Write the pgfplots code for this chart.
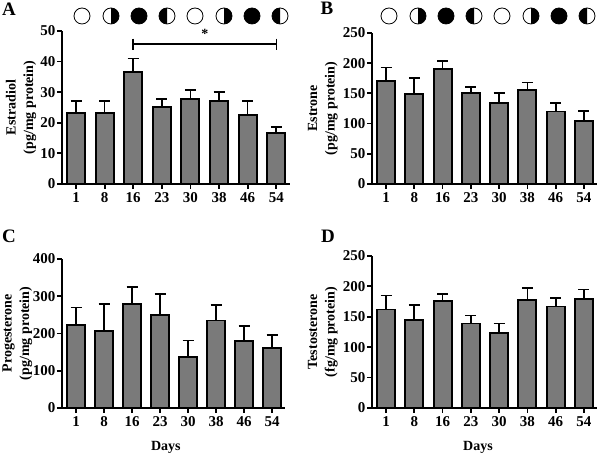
\documentclass[border=0pt]{standalone}
\usepackage{fontspec}
\setmainfont{Liberation Serif}
\usepackage{pgfplots}
\usepackage{pgfplotstable}
\pgfplotsset{compat=1.18}

\definecolor{barfill}{RGB}{122,122,122}

\pgfplotstableread{
x y e
0 23.2 4.0
1 23.2 3.9
2 36.7 4.3
3 25.2 2.7
4 27.7 2.9
5 27.2 2.8
6 22.4 4.8
7 16.6 2.1
}\estradiol
\pgfplotstableread{
x y e
0 170 23
1 149 26
2 190 13
3 150 11
4 134 16
5 155 13
6 120 14
7 104 17
}\estrone
\pgfplotstableread{
x y e
0 223 47
1 207 72
2 279 45
3 250 55
4 138 43
5 235 42
6 181 39
7 162 34
}\progesterone
\pgfplotstableread{
x y e
0 162 23
1 145 25
2 176 12
3 139 13
4 123 16
5 177 20
6 167 14
7 180 15
}\testosterone

\newcommand{\lab}{\fontsize{15}{16}\selectfont\bfseries}

\pgfplotsset{
  panel/.style={
    scale only axis,
    anchor=south west,
    axis x line=bottom,
    axis y line=left,
    axis line style={line width=2.1pt,-},
    x axis line style={-},
    y axis line style={-},
    tick style={black,line width=1.8pt},
    tick align=outside,
    major tick length=5pt,
    xtick={0,...,7},
    xticklabels={1,8,16,23,30,38,46,54},
    ymin=0,
    clip=false,
    /pgf/number format/assume math mode=true,
    tick label style={font=\lab},
    x tick label style={yshift=0pt},
    y tick label style={xshift=2pt},
    label style={font=\fontsize{14}{17.5}\selectfont\bfseries,align=center},
  },
  bars/.style={
    ybar,
    bar width=18pt,
    bar shift=0pt,
    fill=barfill,
    draw=black,
    line width=1.9pt,
    error bars/.cd,
      y dir=plus,
      y explicit,
      error mark options={rotate=90,mark size=5.5pt,line width=1.8pt,black},
      error bar style={line width=1.6pt,black},
  },
}

% moon phases above the top panels
\newcommand{\moon}[3]{% x, y, kind: 0 full white, 1 right dark, 2 all dark, 3 left dark
  \ifcase#3\relax
  \or \fill[black] (#1pt,#2pt+8pt) arc[start angle=90,end angle=-90,radius=8pt] -- cycle;
  \or \fill[black] (#1pt,#2pt) circle[radius=8pt];
  \or \fill[black] (#1pt,#2pt+8pt) arc[start angle=90,end angle=270,radius=8pt] -- cycle;
  \fi
  \draw[black,line width=0.8pt] (#1pt,#2pt) circle[radius=8pt];
}

\begin{document}
\begin{tikzpicture}[x=1pt,y=1pt]
\useasboundingbox (0,0) rectangle (600,457);

\begin{axis}[panel,at={(62pt,273pt)},width=228pt,height=153pt,
  xmin=-0.49,xmax=7.48,ymax=50,ytick={0,10,...,50},
  ylabel={Estradiol\\(pg/mg protein)},
  every axis y label/.append style={at={(axis description cs:-0.18,0.5)},anchor=center}]
\addplot[bars] table[x=x,y=y,y error=e] {\estradiol};
\addplot[black,line width=1.5pt,mark=|,mark size=5.5pt,mark options={line width=1.5pt}] coordinates {(2,45.7) (7,45.7)};
\node[font=\fontsize{14}{14}\selectfont\bfseries] at (axis cs:4.5,49.2) {*};
\end{axis}

\begin{axis}[panel,at={(372pt,273pt)},width=225pt,height=151pt,
  xmin=-0.495,xmax=7.46,ymax=250,ytick={0,50,...,250},
  ylabel={Estrone\\(pg/mg protein)},
  every axis y label/.append style={at={(axis description cs:-0.218,0.5)},anchor=center}]
\addplot[bars] table[x=x,y=y,y error=e] {\estrone};
\end{axis}

\begin{axis}[panel,at={(62pt,49pt)},width=223pt,height=149pt,
  xmin=-0.5,xmax=7.46,ymax=400,ytick={0,100,...,400},
  ylabel={Progesterone\\(pg/mg protein)},
  every axis y label/.append style={at={(axis description cs:-0.2,0.5)},anchor=center},
  xlabel={Days},
  every axis x label/.append style={at={(axis description cs:0.466,-0.267)},anchor=center}]
\addplot[bars] table[x=x,y=y,y error=e] {\progesterone};
\end{axis}

\begin{axis}[panel,at={(372pt,49pt)},width=225pt,height=152pt,
  xmin=-0.495,xmax=7.46,ymax=250,ytick={0,50,...,250},
  ylabel={Testosterone\\(fg/mg protein)},
  every axis y label/.append style={at={(axis description cs:-0.218,0.5)},anchor=center},
  xlabel={Days},
  every axis x label/.append style={at={(axis description cs:0.471,-0.262)},anchor=center}]
\addplot[bars] table[x=x,y=y,y error=e] {\testosterone};
\end{axis}

\foreach \px/\k in {82/0,111/1,139/2,167/3,195/0,224/1,252/2,280/3,
                    389/0,418/1,446/2,474/3,502/0,531/1,559/2,587/3}
  {\moon{\px}{441}{\k}}

\foreach \px/\py/\t in {9/448/A,327/449/B,9/221/C,328/221/D}
  \node[font=\fontsize{19}{19}\selectfont\bfseries] at (\px,\py) {\t};
\end{tikzpicture}
\end{document}
